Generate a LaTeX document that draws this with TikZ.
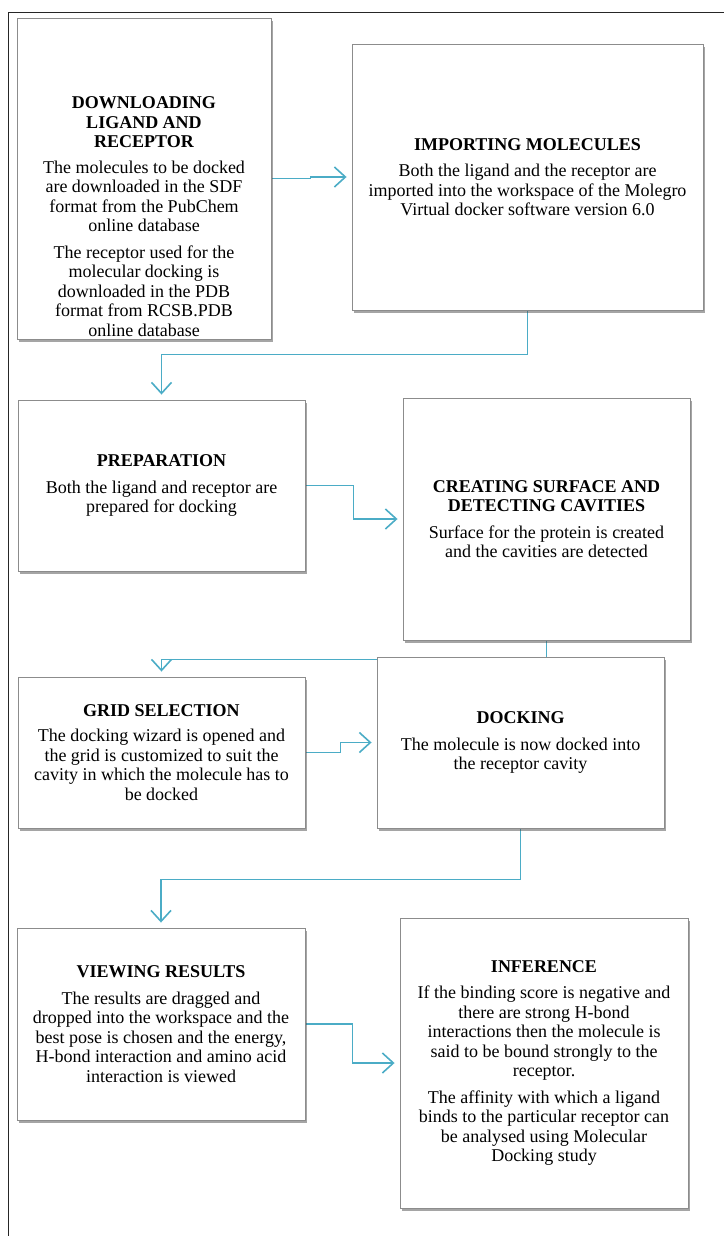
\documentclass[tikz,border=0pt]{standalone}
\usepackage{fontspec}
\setmainfont{Liberation Serif}
\usepackage{tikz}
\usetikzlibrary{arrows.meta, backgrounds, shadows}
\definecolor{flowblue}{RGB}{75,172,198}
\tikzset{
x=1pt, y=-1pt, % one unit is one pixel of the page, y runs downwards
every node/.style={font=\fontsize{18}{19.5}\selectfont, align=center},
box/.style={draw=black!45, fill=white, line width=0.9pt, drop shadow={shadow xshift=1.5pt, shadow yshift=-3pt, opacity=0.5, fill=black!70}}, % the step boxes
flow/.style={draw=flowblue, line width=1.6pt, -{Straight Barb[length=11pt,width=20pt]}, shorten >=5pt}, % blue connectors
}

\begin{document}
\begin{tikzpicture}
  \useasboundingbox (0,0) rectangle (724,1236);

  % page frame
  \draw[line width=0.8pt, black!85] (8.5,1236) -- (8.5,12.5) -- (724,12.5);

  % Downloading
  \node[box, minimum width=254pt, minimum height=321pt] at (144,178.5) (dl){};
  \node at (144,216.5) (dltxt){\textbf{DOWNLOADING}\\\textbf{LIGAND AND}\\\textbf{RECEPTOR}\\[6pt]
    The molecules to be docked\\are downloaded in the SDF\\format from the PubChem\\online database\\[7pt]
    The receptor used for the\\molecular docking is\\downloaded in the PDB\\format from RCSB.PDB\\online database};

  % Importing
  \node[box, minimum width=351pt, minimum height=266pt] at (527.5,177) (imp){\textbf{IMPORTING MOLECULES}\\[7pt]
    Both the ligand and the receptor are\\imported into the workspace of the Molegro\\Virtual docker software version 6.0};

  % Preparation
  \node[box, minimum width=287pt, minimum height=171pt] at (161.5,485.5) (prep){\textbf{PREPARATION}\\[7pt]
    Both the ligand and receptor are\\prepared for docking};

  % Surface and cavities
  \node[box, minimum width=287pt, minimum height=242pt] at (546.5,519) (cav){\textbf{CREATING SURFACE AND}\\\textbf{DETECTING CAVITIES}\\[7pt]
    Surface for the protein is created\\and the cavities are detected};

  % Grid
  \node[box, minimum width=287pt, minimum height=151pt] at (161.5,752.5) (grid){\textbf{GRID SELECTION}\\[6pt]
    The docking wizard is opened and\\the grid is customized to suit the\\cavity in which the molecule has to\\be docked};

  % Docking
  \node[box, minimum width=287pt, minimum height=171pt] at (520.5,742.5) (dock){\textbf{DOCKING}\\[7pt]
    The molecule is now docked into\\the receptor cavity};

  % Results
  \node[box, minimum width=288pt, minimum height=192pt] at (161,1024) (view){\textbf{VIEWING RESULTS}\\[7pt]
    The results are dragged and\\dropped into the workspace and the\\best pose is chosen and the energy,\\H-bond interaction and amino acid\\interaction is viewed};

  % Inference
  \node[box, minimum width=288pt, minimum height=290pt] at (544,1063) (inf){\textbf{INFERENCE}\\[7pt]
    If the binding score is negative and\\there are strong H-bond\\interactions then the molecule is\\said to be bound strongly to the\\receptor.\\[7pt]
    The affinity with which a ligand\\binds to the particular receptor can\\be analysed using Molecular\\Docking study};

  % connectors
  \begin{scope}[on background layer]
    \draw[flow] (dl.east) -- ++(39,0) |- (imp.west);
    \draw[flow] (imp.south) -- ++(0,44) -| (prep.north);
    \draw[flow] (prep.east) -- ++(48,0) |- (cav.west);
    \draw[flow] (cav.south) -- ++(0,19) -| (grid.north);
    \draw[flow] (grid.east) -- ++(35,0) |- (dock.west);
    \draw[flow] (dock.south) -- ++(0,51) -| (view.north);
    \draw[flow] (view.east) -- ++(47,0) |- (inf.west);
  \end{scope}
\end{tikzpicture}
\end{document}
